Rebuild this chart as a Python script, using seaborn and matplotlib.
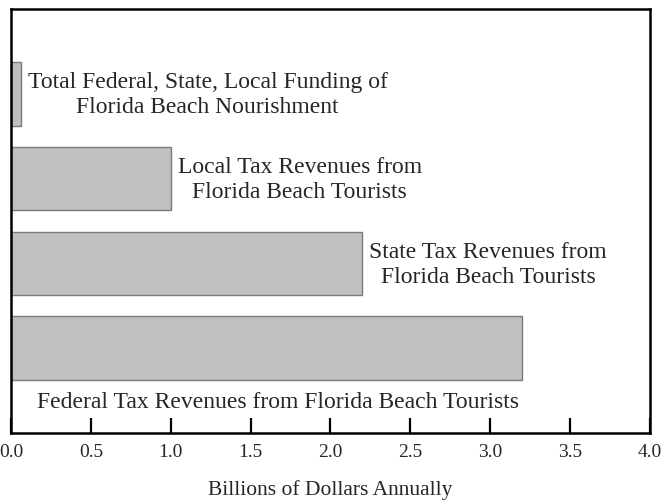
import matplotlib
matplotlib.use("Agg")
import matplotlib.pyplot as plt
import seaborn as sns
import pandas as pd

categories = [
    "Total Federal, State, Local Funding of\nFlorida Beach Nourishment",
    "Local Tax Revenues from\nFlorida Beach Tourists",
    "State Tax Revenues from\nFlorida Beach Tourists",
    "Federal Tax Revenues from Florida Beach Tourists",
]
values = [0.06, 1.0, 2.2, 3.2]
xticks = [0.0, 0.5, 1.0, 1.5, 2.0, 2.5, 3.0, 3.5, 4.0]
xlabel = "Billions of Dollars Annually"

sns.set_theme(style="white")
plt.rcParams["font.family"] = ["Liberation Serif", "DejaVu Serif"]

df = pd.DataFrame({"cat": categories, "val": values})

fig = plt.figure(figsize=(6.63, 5.0), dpi=100)
ax = fig.add_axes([0.0166, 0.134, 0.9634, 0.848])

sns.barplot(data=df, x="val", y="cat", orient="h", width=0.75,
            color="#c0c0c0", edgecolor="#7a7a7a", linewidth=1.0,
            saturation=1, ax=ax)

ax.set_xlim(0, 4.0)
ax.set_ylim(4.0, -1.0)
ax.set_yticks([])
ax.set_ylabel("")
ax.set_xticks(xticks)
ax.set_xticklabels([f"{t:.1f}" for t in xticks], fontsize=14)
ax.tick_params(axis="x", direction="in", length=11, width=1.6,
               color="black", pad=8, bottom=True)
ax.set_xlabel(xlabel, fontsize=15.5, labelpad=14)

for s in ax.spines.values():
    s.set_visible(True)
    s.set_color("black")
    s.set_linewidth(1.8)

for i, (cat, v) in enumerate(zip(categories, values)):
    if i < len(categories) - 1:
        ax.annotate(cat, xy=(v, i), xytext=(5, -1), textcoords="offset points",
                    ha="left", va="center", multialignment="center",
                    fontsize=17, linespacing=1.27)
    else:
        ax.annotate(cat, xy=(v / 2, i + 0.375), xytext=(8, -9),
                    textcoords="offset points", ha="center", va="top",
                    fontsize=17)

fig.savefig("out.png", dpi=100)
